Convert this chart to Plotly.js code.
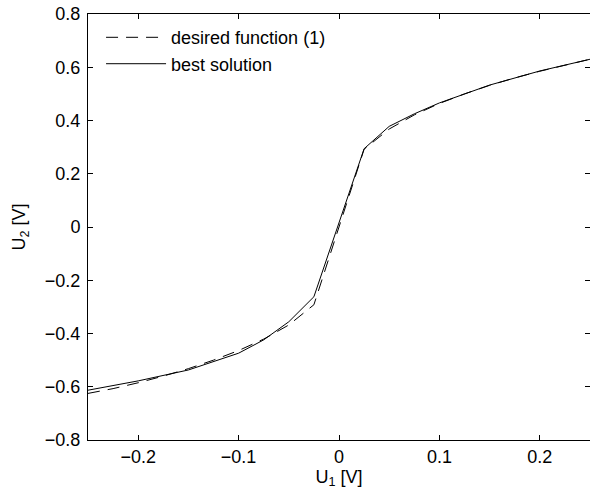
<!DOCTYPE html>
<html>
<head>
<meta charset="utf-8">
<script src="https://cdn.plot.ly/plotly-3.0.1.min.js"></script>
<style>html,body{margin:0;padding:0;background:#fff;}#chart{width:590px;height:495px;}</style>
</head>
<body>
<div id="chart"></div>
<script>
// desired function (1)
const desiredX = [-0.25, -0.225, -0.2, -0.175, -0.15, -0.125, -0.1, -0.075, -0.05, -0.025, 0, 0.025, 0.05, 0.075, 0.1, 0.125, 0.15, 0.175, 0.2, 0.225, 0.25];
const desiredY = [-0.625, -0.607, -0.585, -0.56, -0.532, -0.5, -0.464, -0.421, -0.368, -0.292, 0, 0.292, 0.368, 0.421, 0.464, 0.5, 0.532, 0.56, 0.585, 0.607, 0.63];
// best solution, read from the solid polyline
const bestX = [-0.25, -0.2, -0.15, -0.1, -0.075, -0.05, -0.025, 0.025, 0.05, 0.075, 0.1, 0.15, 0.2, 0.25];
const bestY = [-0.613, -0.578, -0.537, -0.474, -0.424, -0.356, -0.262, 0.294, 0.378, 0.425, 0.466, 0.533, 0.586, 0.63];
const xTicks = [-0.2, -0.1, 0, 0.1, 0.2];
const yTicks = [-0.8, -0.6, -0.4, -0.2, 0, 0.2, 0.4, 0.6, 0.8];
const legendNames = ["desired function (1)", "best solution"];

const font = {family: "Liberation Sans, Arial, Helvetica, sans-serif", size: 18, color: "#000"};
const traces = [
  {x: desiredX, y: desiredY, mode: "lines", name: legendNames[0], legendgroup: "a",
   line: {color: "#000", width: 1, dash: "12px,8px"}},
  {x: bestX, y: bestY, mode: "lines", name: legendNames[1], legendgroup: "b",
   line: {color: "#000", width: 1}}
];
const axisCommon = {
  showgrid: false, zeroline: false, showline: true, linecolor: "#000", linewidth: 1,
  mirror: "ticks", ticks: "inside", ticklen: 5, tickcolor: "#000", tickwidth: 1,
  tickfont: font
};
const layout = {
  width: 590, height: 495,
  margin: {l: 88, r: 0, t: 14, b: 55},
  paper_bgcolor: "#fff", plot_bgcolor: "#fff",
  font: font,
  showlegend: true,
  legend: {x: 0.026, y: 0.988, xanchor: "left", yanchor: "top", bgcolor: "rgba(0,0,0,0)",
           borderwidth: 0, font: font, traceorder: "grouped", tracegroupgap: 0, itemwidth: 60},
  xaxis: Object.assign({}, axisCommon, {range: [-0.25, 0.25], tickvals: xTicks,
           ticklabelstandoff: 0,
           title: {text: "U<sub>1</sub> [V]", font: font, standoff: 2}}),
  yaxis: Object.assign({}, axisCommon, {range: [-0.8, 0.8], tickvals: yTicks,
           ticklabelstandoff: 3,
           title: {text: "U<sub>2</sub> [V]", font: font, standoff: 14}})
};
Plotly.newPlot("chart", traces, layout, {displayModeBar: false, staticPlot: true});
</script>
</body>
</html>
